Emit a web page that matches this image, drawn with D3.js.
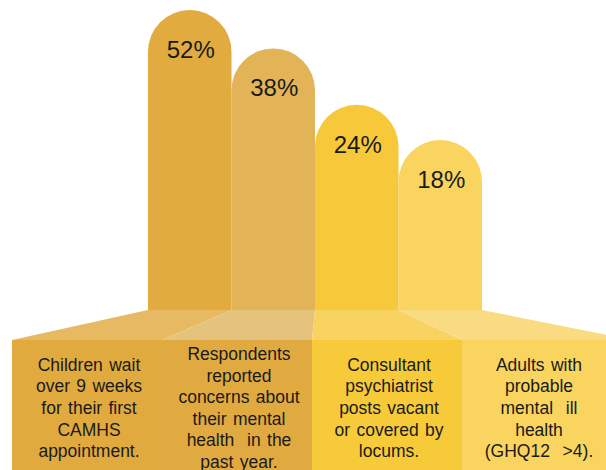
<!DOCTYPE html>
<html>
<head>
<meta charset="utf-8">
<script src="https://cdn.jsdelivr.net/npm/d3@7"></script>
<style>
  body { margin: 0; background: #fff; }
  svg { display: block; font-family: "Liberation Sans", Arial, sans-serif; }
  .lbl { white-space: pre; }
</style>
</head>
<body>
<div id="vis"></div>
<script>
var width = 606,
    height = 470;

// chart data
var keys = ["camhs", "concerns", "vacant", "ghq"];
var values = [52, 38, 24, 18];
var labels = ["52%", "38%", "24%", "18%"];
var captions = [
  ["Children wait", "over 9 weeks", "for their first", "CAMHS", "appointment."],
  ["Respondents", "reported", "concerns about", "their mental", "health  in the", "past year."],
  ["Consultant", "psychiatrist", "posts vacant", "or covered by", "locums."],
  ["Adults with", "probable", "mental  ill", "health", "(GHQ12  >4)."]
];
var barColors = ["#e1ab40", "#e3b457", "#f7c93a", "#f9d45f"];
var floorColors = ["#e6b962", "#e6c37c", "#f8d361", "#f9dc81"];
var boxColors = ["#e1aa3f", "#e1aa40", "#f7ca39", "#f9d45f"];

var barBase = 310,   // where bars meet the sloped floor
    boxTop = 340;    // where the caption boxes start

var svg = d3.select("#vis").append("svg")
    .attr("width", width)
    .attr("height", height);

// bar columns
var x = d3.scaleBand()
    .domain(keys)
    .range([148, 482])
    .padding(0);

// caption boxes are wider than the bars
var xBox = d3.scaleBand()
    .domain(keys)
    .range([12, 612])
    .padding(0);

// bar height (infographic, not linear)
var y = d3.scaleLog()
    .domain([18, 52])
    .range([140, 10]);

var data = keys.map(function(k, i) {
  return { key: k, value: values[i], label: labels[i], lines: captions[i], i: i };
});

function barPath(d) {
  var x0 = x(d.key), x1 = x0 + x.bandwidth(), r = x.bandwidth() / 2, t = y(d.value);
  return "M" + x0 + "," + barBase +
         "V" + (t + r) +
         "A" + r + "," + r + " 0 0 1 " + x1 + "," + (t + r) +
         "V" + barBase + "Z";
}

// boxes
svg.selectAll("rect.box")
    .data(data)
    .enter()
    .append("rect")
    .attr("class", "box")
    .attr("x", function(d) { return xBox(d.key); })
    .attr("y", boxTop)
    .attr("width", xBox.bandwidth() + 0.5)
    .attr("height", height - boxTop)
    .attr("fill", function(d) { return boxColors[d.i]; });

// sloped floor joining bars to boxes
svg.selectAll("path.floor")
    .data(data)
    .enter()
    .append("path")
    .attr("class", "floor")
    .attr("d", function(d) {
      var extra = d.i === keys.length - 1 ? 20 : 0;
      return "M" + x(d.key) + "," + barBase +
             "L" + (x(d.key) + x.bandwidth()) + "," + barBase +
             "L" + (xBox(d.key) + xBox.bandwidth() + extra) + "," + boxTop +
             "L" + xBox(d.key) + "," + boxTop + "Z";
    })
    .attr("fill", function(d) { return floorColors[d.i]; });

// bars
svg.selectAll("path.bar")
    .data(data)
    .enter()
    .append("path")
    .attr("class", "bar")
    .attr("d", barPath)
    .attr("fill", function(d) { return barColors[d.i]; });

// percent labels
svg.selectAll("text.pct")
    .data(data)
    .enter()
    .append("text")
    .attr("class", "pct")
    .attr("x", function(d) { return x(d.key) + x.bandwidth() / 2 + 1; })
    .attr("y", function(d) { return y(d.value) + 48; })
    .attr("text-anchor", "middle")
    .attr("font-size", "24px")
    .attr("fill", "#1a1a1a")
    .text(function(d) { return d.label; });

// captions
var lineH = 21.6;
var cap = svg.selectAll("text.cap")
    .data(data)
    .enter()
    .append("text")
    .attr("class", "cap lbl")
    .attr("text-anchor", "middle")
    .attr("font-size", "17.5px")
    .attr("word-spacing", "1.5px")
    .attr("fill", "#1a1a1a");

cap.selectAll("tspan")
    .data(function(d) {
      var cx = xBox(d.key) + xBox.bandwidth() / 2 + 2;
      var y0 = 414 - (d.lines.length - 1) / 2 * lineH;
      return d.lines.map(function(s, j) { return { s: s, x: cx, y: y0 + j * lineH }; });
    })
    .enter()
    .append("tspan")
    .attr("x", function(d) { return d.x; })
    .attr("y", function(d) { return d.y; })
    .text(function(d) { return d.s; });
</script>
</body>
</html>
